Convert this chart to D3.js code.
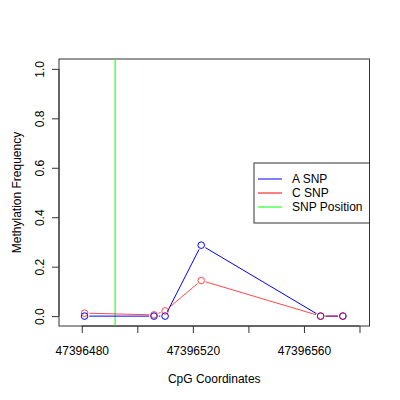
<!DOCTYPE html>
<html>
<head>
<meta charset="utf-8">
<script src="https://cdn.jsdelivr.net/npm/d3@7"></script>
<style>
  body { margin: 0; background: #fff; }
  svg text { font-family: "Liberation Sans", Arial, sans-serif; font-size: 12px; fill: #000; }
</style>
</head>
<body>
<svg width="400" height="400"></svg>
<script>
// CpG positions and methylation frequency per allele
const positions = [47396481, 47396506, 47396510, 47396523, 47396566, 47396574];
const aSnp = [0.0, 0.0, 0.0, 0.287, 0.0, 0.0];
const cSnp = [0.012, 0.005, 0.021, 0.144, 0.0, 0.0];
const snpPosition = 47396492;

const xTicks = [47396480, 47396500, 47396520, 47396540, 47396560, 47396580];
const xTickLabels = ["47396480", "", "47396520", "", "47396560", ""];
const yTicks = [0, 0.2, 0.4, 0.6, 0.8, 1.0];

const legendItems = [
  { label: "A SNP", color: "#0000ff" },
  { label: "C SNP", color: "#ff0000" },
  { label: "SNP Position", color: "#00ff00" }
];

const svg = d3.select("svg");
// plot region (R default margins)
const plotL = 59, plotR = 369.5, plotT = 59, plotB = 326;

const x = d3.scaleLinear()
  .domain([47396471.8, 47396583.6])
  .range([plotL, plotR]);
const y = d3.scaleLinear()
  .domain([-0.04, 1.04])
  .range([plotB, plotT]);

// axes
const xAxis = svg.append("g").attr("transform", `translate(0,${plotB})`)
  .call(d3.axisBottom(x).tickValues(xTicks).tickSize(7)
    .tickFormat((d, i) => xTickLabels[i]));
xAxis.select(".domain").attr("d", `M${x(xTicks[0])},0H${x(xTicks[xTicks.length - 1])}`);
xAxis.selectAll("text").attr("dy", null).attr("y", 29).style("font-size", "12px")
  .style("font-family", "Liberation Sans, Arial, sans-serif");

const yAxis = svg.append("g").attr("transform", `translate(${plotL},0)`)
  .call(d3.axisLeft(y).tickValues(yTicks).tickSize(7).tickFormat(d3.format(".1f")));
yAxis.select(".domain").attr("d", `M0,${y(0)}V${y(1)}`);
yAxis.selectAll("text")
  .attr("x", null).attr("dy", null)
  .attr("text-anchor", "middle")
  .attr("transform", "translate(-15,0) rotate(-90)")
  .style("font-size", "12px")
  .style("font-family", "Liberation Sans, Arial, sans-serif");
svg.selectAll(".tick line, .domain").attr("stroke", "#333");

// box
svg.append("rect")
  .attr("x", plotL).attr("y", plotT)
  .attr("width", plotR - plotL).attr("height", plotB - plotT)
  .attr("fill", "none").attr("stroke", "#333");

// titles
svg.append("text").attr("x", (plotL + plotR) / 2).attr("y", 383)
  .attr("text-anchor", "middle").text("CpG Coordinates");
svg.append("text").attr("transform", `translate(20.5,${(plotT + plotB) / 2}) rotate(-90)`)
  .attr("text-anchor", "middle").text("Methylation Frequency");

// snp position line
svg.append("line")
  .attr("x1", x(snpPosition)).attr("x2", x(snpPosition))
  .attr("y1", plotT).attr("y2", plotB)
  .attr("stroke", "#00ff00").attr("stroke-width", 1);

// type="b" style: segments with gaps around points
const r = 3.3, gap = 4.8;
function drawSeries(values, color, opacity) {
  const pts = positions.map((p, i) => [x(p), y(values[i])]);
  const g = svg.append("g").attr("opacity", opacity);
  for (let i = 0; i < pts.length - 1; i++) {
    const [x0, y0] = pts[i], [x1, y1] = pts[i + 1];
    const len = Math.hypot(x1 - x0, y1 - y0);
    if (len <= 2 * gap) continue;
    const ux = (x1 - x0) / len, uy = (y1 - y0) / len;
    g.append("line")
      .attr("x1", x0 + ux * gap).attr("y1", y0 + uy * gap)
      .attr("x2", x1 - ux * gap).attr("y2", y1 - uy * gap)
      .attr("stroke", color).attr("stroke-width", 1);
  }
  g.selectAll("circle").data(pts).enter().append("circle")
    .attr("cx", d => d[0]).attr("cy", d => d[1]).attr("r", r)
    .attr("fill", "none").attr("stroke", color).attr("stroke-width", 1);
}
drawSeries(aSnp, "#0000ff", 1);
drawSeries(cSnp, "#ff0000", 0.7);

// legend
const lg = svg.append("g");
lg.append("rect").attr("x", 254).attr("y", 163).attr("width", plotR - 254).attr("height", 60)
  .attr("fill", "#fff").attr("stroke", "#333");
legendItems.forEach((d, i) => {
  const ly = 179 + i * 14;
  lg.append("line").attr("x1", 258).attr("x2", 282).attr("y1", ly).attr("y2", ly)
    .attr("stroke", d.color);
  lg.append("text").attr("x", 292).attr("y", ly + 4).text(d.label);
});
</script>
</body>
</html>
